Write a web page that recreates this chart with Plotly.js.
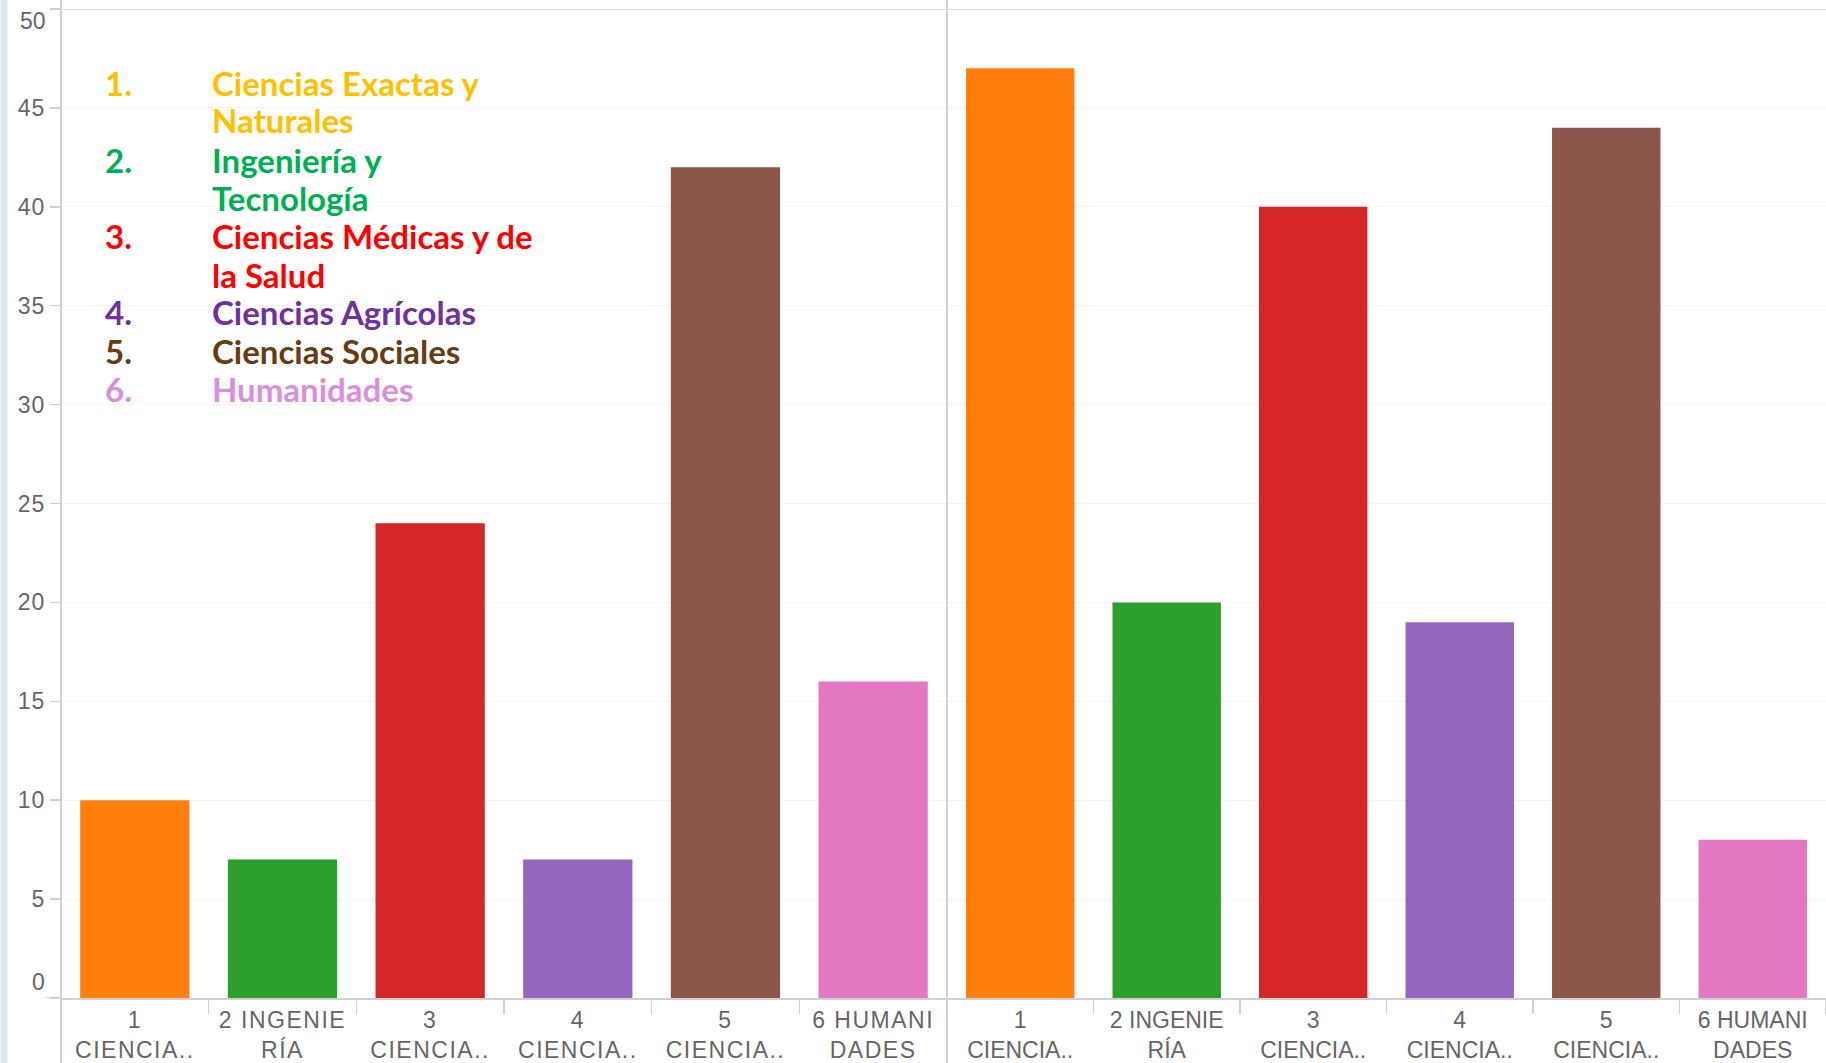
<!DOCTYPE html>
<html>
<head>
<meta charset="utf-8">
<script src="https://cdn.plot.ly/plotly-3.0.1.min.js"></script>
<style>
html,body{margin:0;padding:0;background:#fff;}
#chart{width:1826px;height:1063px;}
.xtick text{letter-spacing:1.5px;}
.ytick text{letter-spacing:1px;}
</style>
</head>
<body>
<div id="chart"></div>
<script>
// ---- data ----
const categories = ["1<br>CIENCIA..", "2 INGENIE<br>RÍA", "3<br>CIENCIA..", "4<br>CIENCIA..", "5<br>CIENCIA..", "6 HUMANI<br>DADES"];
const panelLeftValues = [10, 7, 24, 7, 42, 16];
const panelRightValues = [47, 20, 40, 19, 44, 8];
const barColors = ["#FF7F0E", "#2CA02C", "#D62728", "#9467BD", "#8C564B", "#E377C2"];
const yTickValues = [0, 5, 10, 15, 20, 25, 30, 35, 40, 45, 50];
const legendNumbers = ["1.", "2.", "3.", "4.", "5.", "6."];
const legendLines = [
  ["Ciencias Exactas y", "Naturales"],
  ["Ingeniería y", "Tecnología"],
  ["Ciencias Médicas y de", "la Salud"],
  ["Ciencias Agrícolas"],
  ["Ciencias Sociales"],
  ["Humanidades"]
];
const legendColors = ["#FFC000", "#00B050", "#FF0000", "#7030A0", "#663C10", "#D98FDB"];

// ---- layout geometry (pixels) ----
const W = 1826, H = 1063;
const mL = 60.5, mR = 0, mT = 9, mB = 65;
const plotW = W - mL - mR, plotH = H - mT - mB;
const split = (946.7 - mL) / plotW;
const px = x => (x - mL) / plotW;
const py = y => (H - mB - y) / plotH;

const axisFont = {family: "Liberation Sans, Arial, sans-serif", size: 23, color: "#666"};

const traces = [
  {type: "bar", x: categories, y: panelLeftValues, marker: {color: barColors}, xaxis: "x", yaxis: "y", hoverinfo: "x+y"},
  {type: "bar", x: categories, y: panelRightValues, marker: {color: barColors}, xaxis: "x2", yaxis: "y", hoverinfo: "x+y"}
];

const xCommon = {
  type: "category",
  tickson: "boundaries",
  ticks: "outside",
  ticklen: 14,
  tickcolor: "#d0d0d0",
  tickwidth: 1.5,
  showgrid: false,
  showline: true,
  linecolor: "#d0d0d0",
  linewidth: 2,
  tickfont: axisFont,
  fixedrange: true,
  range: [-0.5, 5.5]
};

const annotations = [];
const lineYs = [82.7, 120, 159.5, 198, 236.4, 274.8, 312, 350.5, 389];
let li = 0;
const legendFont = (c) => ({family: "Lato, 'Open Sans', sans-serif", size: 33, color: c, weight: 700});
legendLines.forEach((lines, i) => {
  annotations.push({
    xref: "paper", yref: "paper", x: px(103), y: py(lineYs[li]),
    xanchor: "left", yanchor: "middle", text: "<b>" + legendNumbers[i] + "</b>",
    showarrow: false, font: legendFont(legendColors[i])
  });
  lines.forEach(t => {
    annotations.push({
      xref: "paper", yref: "paper", x: px(210), y: py(lineYs[li]),
      xanchor: "left", yanchor: "middle", text: "<b>" + t + "</b>",
      showarrow: false, font: legendFont(legendColors[i])
    });
    li++;
  });
});

// end tick labels placed inside the range, as in the reference
const yEnds = [yTickValues[0], yTickValues[yTickValues.length - 1]];
annotations.push({
  xref: "paper", yref: "paper", x: px(46), y: py(982), xanchor: "right", yanchor: "middle",
  text: String(yEnds[0]), showarrow: false, font: axisFont
});
annotations.push({
  xref: "paper", yref: "paper", x: px(47), y: py(21), xanchor: "right", yanchor: "middle",
  text: String(yEnds[1]), showarrow: false, font: axisFont
});

const shapes = [
  {type: "line", xref: "paper", yref: "paper", x0: 0, x1: 0, y0: -mB / plotH, y1: 1 + mT / plotH, line: {color: "#d0d0d0", width: 2}},
  {type: "line", xref: "paper", yref: "paper", x0: split, x1: split, y0: -mB / plotH, y1: 1 + mT / plotH, line: {color: "#d0d0d0", width: 2}},
  {type: "line", xref: "paper", yref: "y", x0: 0, x1: 1, y0: 50, y1: 50, line: {color: "#dcdcdc", width: 2}},
  {type: "line", xref: "paper", yref: "y", x0: px(46), x1: 0, y0: 0, y1: 0, line: {color: "#d0d0d0", width: 2}},
  {type: "rect", xref: "paper", yref: "paper", x0: -mL / plotW, x1: (7 - mL) / plotW, y0: -mB / plotH, y1: 1 + mT / plotH, fillcolor: "#dfe7f1", line: {width: 0}, layer: "below"}
];

const layout = {
  width: W, height: H,
  margin: {l: mL, r: mR, t: mT, b: mB, pad: 0},
  paper_bgcolor: "#fff", plot_bgcolor: "#fff",
  showlegend: false,
  bargap: 0.26,
  xaxis: Object.assign({}, xCommon, {domain: [0, split], anchor: "y"}),
  xaxis2: Object.assign({}, xCommon, {domain: [split, 1], anchor: "y"}),
  yaxis: {
    range: [0, 50],
    tickvals: yTickValues,
    ticktext: yTickValues.map((v, i) => (i === 0 || i === yTickValues.length - 1) ? "" : String(v)),
    ticks: "outside",
    ticklen: 10,
    tickcolor: "#d0d0d0",
    tickwidth: 1.5,
    showgrid: true,
    gridcolor: "#f4f4f4",
    zeroline: false,
    showline: false,
    tickfont: axisFont,
    fixedrange: true
  },
  annotations: annotations,
  shapes: shapes
};

Plotly.newPlot("chart", traces, layout, {displayModeBar: false, staticPlot: true});
</script>
</body>
</html>
